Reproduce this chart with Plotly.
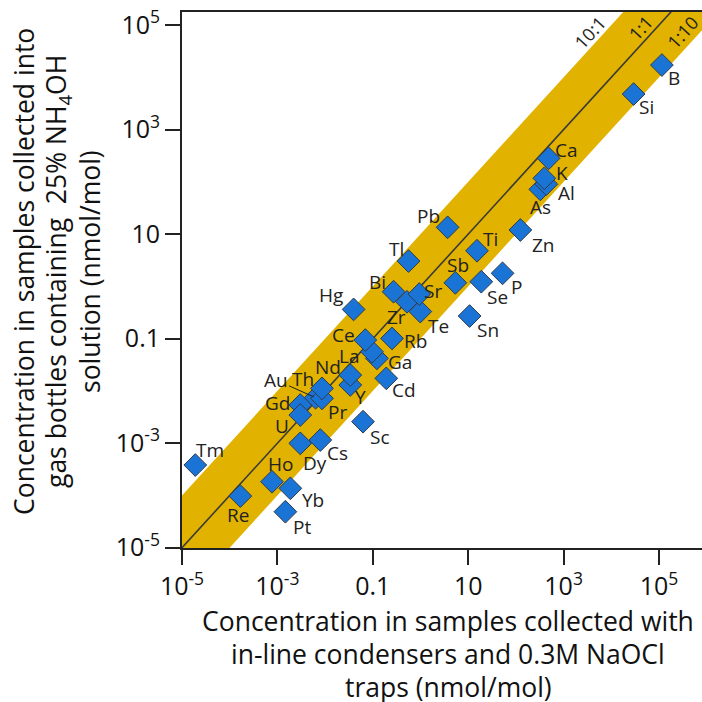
import math
import plotly.graph_objects as go

# Element concentrations (nmol/mol): x = in-line condensers + NaOCl traps,
# y = gas bottles with 25% NH4OH solution
elements = ["Au", "Tm", "Re", "Ho", "Yb", "Pt", "Dy", "Cs", "Gd", "U", "Pr", "Th",
            "Sc", "Y", "Nd", "Cd", "Ga", "La", "Ce", "Rb", "Hg", "Zr", "Te", "Sr",
            "Bi", "Tl", "Sn", "Sb", "Se", "P", "Ti", "Pb", "Zn", "As", "Al", "K",
            "Ca", "Si", "B"]
x_condenser = [0.00631, 1.90e-5, 1.67e-4, 7.71e-4, 1.87e-3, 1.47e-3, 0.00302, 0.00794,
               0.00302, 0.00302, 0.00861, 0.00861, 0.0624, 0.0337, 0.0337, 0.192,
               0.122, 0.0962, 0.0697, 0.253, 0.0396, 0.521, 0.99, 0.944, 0.273,
               0.562, 10.7, 5.37, 18.8, 52.5, 15.3, 3.70, 124, 325, 434, 394, 485,
               2.94e4, 1.15e5]
y_bottle = [0.00741, 3.82e-4, 9.75e-5, 1.83e-4, 1.37e-4, 4.89e-5, 0.000993, 0.00115,
            0.00537, 0.00346, 0.00721, 0.0112, 0.00258, 0.0130, 0.0201, 0.0174,
            0.0420, 0.0562, 0.0942, 0.101, 0.363, 0.508, 0.330, 0.714, 0.791,
            3.05, 0.271, 1.17, 1.23, 1.78, 4.81, 13.5, 12.0, 71.9, 90.8, 117, 282,
            4.79e3, 1.72e4]
# Label offsets from each marker, in pixels (dx right, dy down)
label_dx = [0, 15, -2, 8, 23, 17, 15, 17, -23, -18, 15, -19,
            17, 10, -22, 18, 23, -23, -22, 23, -23, -10, 18, 14,
            -16, -12, 18, 3, 16, 14, 13, -19, 23, 0, 20, 18,
            18, 13, 12]
label_dy = [0, -15, 19, -18, 12, 15, 20, 13, -2, 11, 14, -9,
            15, 12, -8, 12, 4, 4, -5, 3, -14, 15, 14, -3,
            -10, -12, 14, -18, 15, 14, -12, -11, 15, 18, 9, -5,
            -8, 13, 13]

# Axis ticks
tick_exps = [-5, -3, -1, 1, 3, 5]
tick_text = ["10<sup>-5</sup>", "10<sup>-3</sup>", "0.1", "10",
             "10<sup>3</sup>", "10<sup>5</sup>"]

# Axis title lines
x_title_lines = ["Concentration in samples collected with",
                 "in-line condensers and 0.3M NaOCl",
                 "traps (nmol/mol)"]
y_title_lines = ["Concentration in samples collected into",
                 "gas bottles containing  25% NH<sub>4</sub>OH",
                 "solution (nmol/mol)"]

# Ratio guide lines
ratios = [10, 1, 0.1]
ratio_labels = ["10:1", "1:1", "1:10"]

FONT = "Open Sans"
W, H = 702, 702
ML, MR, MT, MB = 182, 0, 12, 154
PW, PH = W - ML - MR, H - MT - MB
X_RANGE = [-5.0, -5.0 + PW / 47.7]
Y_RANGE = [-5.005, 5.25]


def xpaper(px):
    return (px - ML) / PW


def ypaper(py):
    return (H - MB - py) / PH


fig = go.Figure()

# 10:1 .. 1:10 band
lo, hi = 1e-7, 1e7
fig.add_trace(go.Scatter(
    x=[lo, hi, hi, lo], y=[lo * ratios[0], hi * ratios[0], hi * ratios[2], lo * ratios[2]],
    mode="lines", fill="toself", fillcolor="rgb(225,178,0)",
    line=dict(width=0), hoverinfo="skip", showlegend=False))

# 1:1 line
fig.add_trace(go.Scatter(
    x=[lo, hi], y=[lo * ratios[1], hi * ratios[1]], mode="lines",
    line=dict(color="#3a3a3a", width=1.6), hoverinfo="skip", showlegend=False))

# Data points
fig.add_trace(go.Scatter(
    x=x_condenser, y=y_bottle, mode="markers", text=elements,
    marker=dict(symbol="diamond", size=17.5, color="#1a74d6",
                line=dict(color="#2f3b4a", width=1)),
    cliponaxis=False, showlegend=False))

annotations = []
for name, xv, yv, dx, dy in zip(elements, x_condenser, y_bottle, label_dx, label_dy):
    if name == "Au":
        annotations.append(dict(
            x=math.log10(xv), y=math.log10(yv), xref="x", yref="y", text=name,
            showarrow=True, arrowhead=0, arrowwidth=1, arrowcolor="#222",
            ax=-40, ay=-18, standoff=2,
            font=dict(family=FONT, size=19, color="#222")))
    else:
        annotations.append(dict(
            x=math.log10(xv), y=math.log10(yv), xref="x", yref="y", text=name,
            showarrow=False, xshift=dx, yshift=-dy,
            font=dict(family=FONT, size=19, color="#222")))

# Ratio labels along the guide lines
angle = -math.degrees(math.atan(52.27 / 47.7))
for txt, lx, ly in zip(ratio_labels, [3.56, 4.608, 5.50], [4.866, 4.943, 4.86]):
    annotations.append(dict(
        x=lx, y=ly, xref="x", yref="y", text=txt, showarrow=False,
        textangle=angle, font=dict(family=FONT, size=18, color="#222")))

# Axis titles, one annotation per line
for line, py in zip(x_title_lines, [621, 654, 687]):
    annotations.append(dict(
        x=xpaper(448), y=ypaper(py), xref="paper", yref="paper",
        xanchor="center", yanchor="middle", text=line, showarrow=False,
        font=dict(family=FONT, size=26.5, color="#111")))
for line, px in zip(y_title_lines, [24, 57, 90]):
    annotations.append(dict(
        x=xpaper(px), y=ypaper(272), xref="paper", yref="paper",
        xanchor="center", yanchor="middle", text=line, showarrow=False,
        textangle=-90, font=dict(family=FONT, size=26.5, color="#111")))

axis_common = dict(
    type="log", tickmode="array", tickvals=[10 ** e for e in tick_exps],
    ticktext=tick_text, ticks="outside", ticklen=15, tickwidth=2, tickcolor="#222",
    showline=True, linecolor="#222", linewidth=2, showgrid=False, zeroline=False,
    tickfont=dict(family=FONT, size=25, color="#111"))

fig.update_layout(
    width=W, height=H, margin=dict(l=ML, r=MR, t=MT, b=MB),
    plot_bgcolor="white", paper_bgcolor="white",
    xaxis=dict(range=X_RANGE, mirror=True, **axis_common),
    yaxis=dict(range=Y_RANGE, mirror=False, **axis_common),
    annotations=annotations, showlegend=False)

fig.write_html("out.html")
